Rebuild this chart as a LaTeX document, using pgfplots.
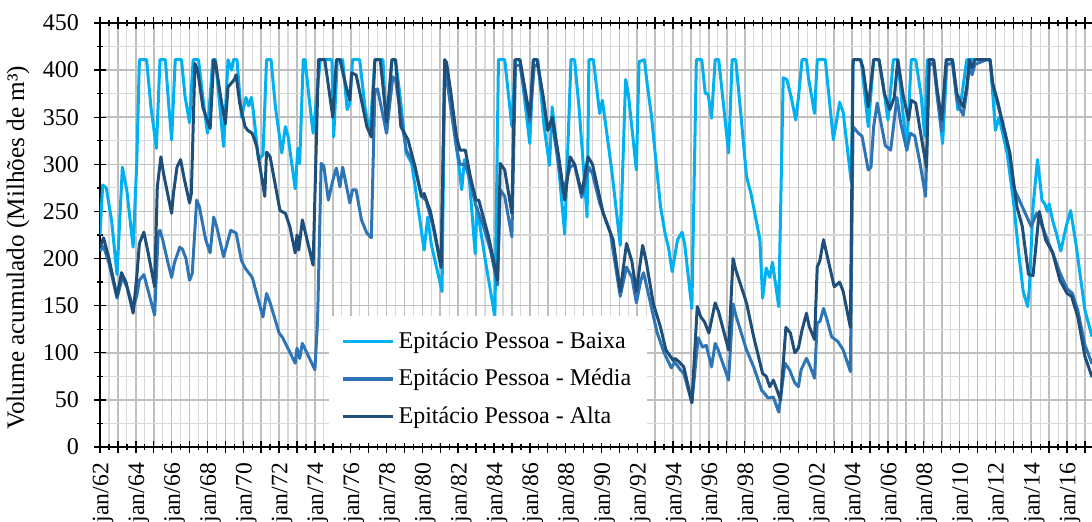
\documentclass[border=0pt]{standalone}
\usepackage{fontspec}
\setmainfont{Liberation Serif}
\usepackage{pgfplots}
\pgfplotsset{compat=1.18}
\definecolor{cBaixa}{HTML}{00B0F0}
\definecolor{cMedia}{HTML}{2E75B6}
\definecolor{cAlta}{HTML}{1F4E79}
\definecolor{gmaj}{HTML}{BFBFBF}
\definecolor{gmin}{HTML}{D9D9D9}
\begin{document}
\begin{tikzpicture}
\begin{axis}[
  scale only axis, width=500pt, height=212pt,
  xmin=1962, xmax=2017.84, ymin=0, ymax=450,
  /pgf/number format/assume math mode=true,
  xtick={1962,1963,...,2017},
  xticklabels={jan/62,,jan/64,,jan/66,,jan/68,,jan/70,,jan/72,,jan/74,,jan/76,,jan/78,,jan/80,,jan/82,,jan/84,,jan/86,,jan/88,,jan/90,,jan/92,,jan/94,,jan/96,,jan/98,,jan/00,,jan/02,,jan/04,,jan/06,,jan/08,,jan/10,,jan/12,,jan/14,,jan/16,},
  minor xtick={1962.5,1963.5,...,2017.5},
  ytick={0,50,...,450},
  minor ytick={25,75,...,425},
  grid=both,
  major grid style={color=gmaj, line width=0.8pt},
  minor grid style={color=gmin, line width=0.6pt},
  axis line style={black, line width=0.9pt},
  tick style={black, line width=0.7pt},
  tick align=center,
  major tick length=6pt, minor tick length=3pt,
  xticklabel style={font=\fontsize{11.8}{14}\selectfont, xshift=1.5pt, yshift=-1.5pt, rotate=90, anchor=east},
  yticklabel style={font=\fontsize{12}{14}\selectfont, xshift=-4pt},
  ylabel={Volume acumulado (Milhões de m³)},
  ylabel style={font=\fontsize{12.6}{15}\selectfont, at={(axis description cs:-0.082,0.47)}, anchor=center},
  legend style={at={(0.229,0.311)}, anchor=north west, draw=none, fill=white,
    font=\fontsize{12}{14}\selectfont, row sep=5pt, inner xsep=6pt, inner ysep=6pt},
  legend cell align=left,
  legend image code/.code={\draw[#1, line width=1.6pt] (0pt,0pt) -- (25pt,0pt);},
  every axis plot/.append style={line width=1.5pt, line join=round},
]
\addplot[cBaixa] coordinates {
(1962.0,225)(1962.15,278)(1962.35,275)(1962.65,240)(1962.95,183)(1963.25,297)(1963.5,272)(1963.85,212)
(1964.05,300)(1964.2,411)(1964.6,411)(1964.85,360)(1965.15,317)(1965.35,411)(1965.65,411)(1965.85,360)
(1966.0,326)(1966.2,411)(1966.55,411)(1966.75,372)(1967.0,344)(1967.2,411)(1967.5,411)(1967.75,370)
(1968.0,333)(1968.3,411)(1968.45,411)(1968.7,360)(1968.9,319)(1969.15,411)(1969.35,400)(1969.45,411)
(1969.65,411)(1969.9,350)(1970.15,371)(1970.3,362)(1970.45,371)(1970.55,358)(1970.85,305)(1971.1,310)
(1971.3,411)(1971.55,411)(1971.8,360)(1972.15,312)(1972.35,340)(1972.5,330)(1972.9,274)(1973.05,317)
(1973.15,301)(1973.35,411)(1973.45,411)(1973.65,375)(1973.9,333)(1974.3,411)(1974.95,411)(1975.05,329)
(1975.25,411)(1975.55,411)(1975.8,358)(1975.95,365)(1976.1,411)(1976.5,411)(1976.8,360)(1977.07,333)
(1977.35,411)(1977.8,411)(1978.0,333)(1978.3,411)(1978.5,411)(1978.75,373)(1979.1,312)(1979.4,301)
(1979.6,276)(1980.1,209)(1980.3,244)(1980.5,215)(1981.1,165)(1981.25,411)(1981.35,405)(1981.6,370)
(1981.9,320)(1982.2,273)(1982.35,305)(1982.6,290)(1982.95,205)(1983.05,255)(1983.5,200)(1984.05,138)
(1984.25,411)(1984.6,411)(1985.0,340)(1985.2,411)(1985.45,411)(1986.0,322)(1986.2,411)(1986.45,411)(1986.8,340)
(1987.1,299)(1987.25,361)(1987.5,320)(1987.95,226)(1988.3,411)(1988.5,411)(1988.75,360)(1989.2,244)
(1989.3,411)(1989.55,411)(1989.9,354)(1990.05,368)(1990.3,333)(1990.6,290)(1991.05,214)(1991.35,390)
(1991.5,375)(1991.95,294)(1992.1,409)(1992.4,411)(1992.55,386)(1992.8,350)(1993.3,255)(1993.55,227)
(1993.75,211)(1993.95,186)(1994.25,220)(1994.5,228)(1994.65,215)(1995.05,147)(1995.3,411)(1995.6,411)
(1995.8,375)(1995.95,375)(1996.15,349)(1996.35,411)(1996.55,411)(1997.1,312)(1997.3,411)(1997.5,411)
(1997.8,350)(1998.1,287)(1998.35,269)(1998.85,220)(1999.0,158)(1999.2,190)(1999.4,180)(1999.55,196)
(1999.9,149)(2000.15,392)(2000.35,390)(2000.6,371)(2000.85,347)(2001.0,371)(2001.2,411)(2001.45,411)
(2001.55,393)(2001.9,354)(2002.05,411)(2002.5,411)(2002.95,326)(2003.3,366)(2003.5,355)(2003.95,281)
(2004.05,411)(2004.5,411)(2004.9,340)(2005.2,411)(2005.5,411)(2005.75,382)(2006.0,347)(2006.3,411)
(2006.55,411)(2006.8,361)(2007.05,315)(2007.3,411)(2007.55,411)(2007.85,373)(2008.05,330)(2008.2,411)
(2008.55,411)(2009.05,322)(2009.3,411)(2009.6,411)(2009.9,358)(2010.1,370)(2010.4,411)(2011.7,411)
(2011.85,375)(2012.0,336)(2012.2,350)(2012.65,312)(2013.0,262)(2013.3,206)(2013.55,165)(2013.8,149)
(2013.9,170)(2014.1,255)(2014.35,305)(2014.6,262)(2014.75,258)(2014.9,250)(2015.0,258)(2015.2,240)
(2015.4,227)(2015.65,208)(2015.95,234)(2016.2,251)(2016.5,215)(2017.0,145)(2017.4,117)
};
\addplot[cMedia] coordinates {
(1962.0,208)(1962.2,213)(1962.5,195)(1962.95,158)(1963.25,180)(1963.5,170)(1963.85,148)(1964.05,160)
(1964.2,177)(1964.45,183)(1964.7,165)(1965.05,140)(1965.25,227)(1965.35,230)(1965.5,220)(1965.8,195)
(1966.0,180)(1966.15,195)(1966.45,212)(1966.6,210)(1966.8,200)(1967.0,177)(1967.15,184)(1967.4,262)
(1967.55,255)(1967.9,220)(1968.15,206)(1968.35,244)(1968.5,235)(1968.9,202)(1969.3,230)(1969.6,227)
(1969.9,198)(1970.1,190)(1970.3,185)(1970.5,180)(1971.1,138)(1971.3,163)(1971.5,153)(1972.0,121)
(1972.2,116)(1972.9,89)(1973.0,105)(1973.15,94)(1973.3,110)(1974.0,82)(1974.15,135)(1974.35,301)
(1974.5,298)(1974.75,262)(1975.0,283)(1975.2,296)(1975.4,276)(1975.55,297)(1975.95,259)(1976.1,273)
(1976.3,273)(1976.6,241)(1976.9,227)(1977.15,222)(1977.35,379)(1977.5,380)(1978.0,333)(1978.35,393)
(1978.5,390)(1979.1,315)(1979.4,305)(1979.6,295)(1979.95,266)(1980.2,262)(1980.6,234)(1981.05,190)
(1981.25,405)(1981.4,385)(1981.9,318)(1982.1,300)(1982.4,300)(1982.7,280)(1983.0,255)(1983.4,235)
(1983.8,209)(1984.2,172)(1984.35,273)(1984.6,266)(1985.0,223)(1985.2,405)(1985.45,405)(1986.0,345)
(1986.25,405)(1986.45,405)(1986.8,365)(1987.0,336)(1987.25,345)(1987.6,300)(1987.85,270)(1988.25,297)
(1988.5,300)(1988.9,265)(1989.3,297)(1989.5,290)(1989.9,259)(1990.5,227)(1991.05,160)(1991.4,191)
(1991.7,180)(1991.95,153)(1992.2,177)(1992.35,185)(1992.7,156)(1993.1,122)(1993.5,100)(1993.9,84)
(1994.1,90)(1994.4,82)(1994.6,78)(1995.05,47)(1995.4,116)(1995.65,106)(1995.85,108)(1996.15,85)
(1996.35,110)(1996.5,104)(1997.1,71)(1997.35,152)(1997.5,140)(1998.1,103)(1998.5,85)(1998.95,60)
(1999.1,57)(1999.3,52)(1999.6,53)(1999.9,37)(2000.25,89)(2000.5,82)(2000.8,68)(2001.0,64)
(2001.15,82)(2001.45,94)(2001.6,88)(2001.9,73)(2002.05,132)(2002.2,133)(2002.4,147)(2002.6,135)
(2002.85,117)(2003.2,112)(2003.5,103)(2003.9,80)(2004.05,340)(2004.35,333)(2004.55,330)(2004.9,294)
(2005.05,297)(2005.2,340)(2005.4,365)(2005.6,345)(2005.85,320)(2006.15,315)(2006.5,371)(2006.7,345)
(2007.05,315)(2007.25,333)(2007.5,330)(2007.8,300)(2008.1,266)(2008.3,405)(2008.55,408)(2008.75,372)
(2009.0,335)(2009.25,405)(2009.6,408)(2009.85,368)(2010.0,360)(2010.2,352)(2010.4,378)(2010.55,405)
(2010.7,395)(2010.85,406)(2011.5,411)(2011.7,411)(2011.85,384)(2012.15,362)(2012.4,345)(2012.8,312)
(2013.0,276)(2013.5,255)(2014.0,234)(2014.3,248)(2014.6,235)(2015.0,215)(2015.2,206)(2015.6,185)
(2016.0,168)(2016.3,163)(2016.6,145)(2017.0,108)(2017.4,88)
};
\addplot[cAlta] coordinates {
(1962.0,212)(1962.2,222)(1962.5,200)(1962.95,160)(1963.2,185)(1963.45,175)(1963.85,142)(1964.05,180)
(1964.2,216)(1964.45,228)(1964.7,205)(1965.05,170)(1965.2,276)(1965.4,308)(1965.55,290)(1966.0,248)
(1966.1,269)(1966.3,297)(1966.5,305)(1966.7,285)(1967.0,259)(1967.1,269)(1967.3,407)(1967.45,400)
(1967.75,360)(1968.15,338)(1968.35,411)(1968.45,408)(1968.75,370)(1969.0,343)(1969.15,382)(1969.5,390)
(1969.6,395)(1969.8,365)(1970.1,340)(1970.25,336)(1970.5,333)(1970.75,319)(1971.2,266)(1971.3,313)
(1971.5,308)(1972.05,251)(1972.35,248)(1972.6,234)(1972.9,206)(1973.0,225)(1973.1,209)(1973.3,241)
(1973.9,193)(1974.2,411)(1974.55,411)(1975.0,350)(1975.2,411)(1975.4,411)(1975.75,382)(1975.95,368)
(1976.05,397)(1976.3,395)(1976.6,368)(1976.9,340)(1977.15,329)(1977.35,411)(1977.65,411)(1978.0,345)
(1978.3,411)(1978.5,411)(1978.8,340)(1979.2,326)(1979.6,297)(1979.95,266)(1980.1,269)(1980.45,250)
(1980.7,227)(1981.05,191)(1981.25,411)(1981.35,408)(1981.6,375)(1981.9,330)(1982.1,315)(1982.4,315)
(1982.7,285)(1983.0,262)(1983.15,262)(1983.7,223)(1984.2,177)(1984.35,301)(1984.6,294)(1985.0,248)
(1985.17,411)(1985.45,411)(1986.0,350)(1986.2,411)(1986.4,411)(1986.75,371)(1987.0,336)(1987.25,350)
(1987.6,310)(1987.95,262)(1988.25,308)(1988.5,300)(1988.9,269)(1989.25,308)(1989.5,300)(1990.1,248)
(1990.65,220)(1991.05,165)(1991.4,216)(1991.7,197)(1991.95,165)(1992.3,214)(1992.5,197)(1992.9,152)
(1993.3,127)(1993.6,103)(1994.0,92)(1994.1,94)(1994.3,91)(1994.6,85)(1995.05,47)(1995.35,149)
(1995.55,138)(1995.75,133)(1996.0,121)(1996.35,153)(1996.55,143)(1997.1,103)(1997.35,200)(1997.5,188)
(1998.1,153)(1998.5,117)(1999.0,78)(1999.2,75)(1999.4,64)(1999.6,71)(2000.0,50)(2000.3,127)
(2000.55,121)(2000.8,100)(2001.0,105)(2001.2,124)(2001.45,142)(2001.6,128)(2001.9,114)(2002.05,191)
(2002.2,198)(2002.4,220)(2002.7,195)(2003.0,170)(2003.3,175)(2003.5,165)(2003.9,127)(2004.05,411)
(2004.45,411)(2004.6,403)(2004.9,361)(2005.2,411)(2005.5,411)(2005.8,375)(2006.1,358)(2006.35,371)
(2006.55,411)(2006.85,373)(2007.15,347)(2007.3,368)(2007.55,365)(2007.85,330)(2008.15,297)(2008.3,411)
(2008.55,411)(2008.75,379)(2009.0,347)(2009.25,411)(2009.6,411)(2009.85,375)(2010.0,368)(2010.2,361)
(2010.4,382)(2010.55,411)(2010.7,403)(2010.85,411)(2011.7,411)(2011.85,386)(2012.15,365)(2012.4,343)
(2012.8,312)(2013.2,255)(2013.5,234)(2013.85,183)(2014.1,182)(2014.45,250)(2014.8,220)(2015.2,206)
(2015.6,177)(2016.0,163)(2016.25,160)(2016.6,138)(2017.0,96)(2017.4,74)
};
\legend{Epitácio Pessoa - Baixa, Epitácio Pessoa - Média, Epitácio Pessoa - Alta}
\coordinate (O) at (rel axis cs:0,0);
\end{axis}
\pgfresetboundingbox
\path[use as bounding box] (O) ++(-50pt,-37.5pt) rectangle ++(546pt,261pt);
\end{tikzpicture}
\end{document}
